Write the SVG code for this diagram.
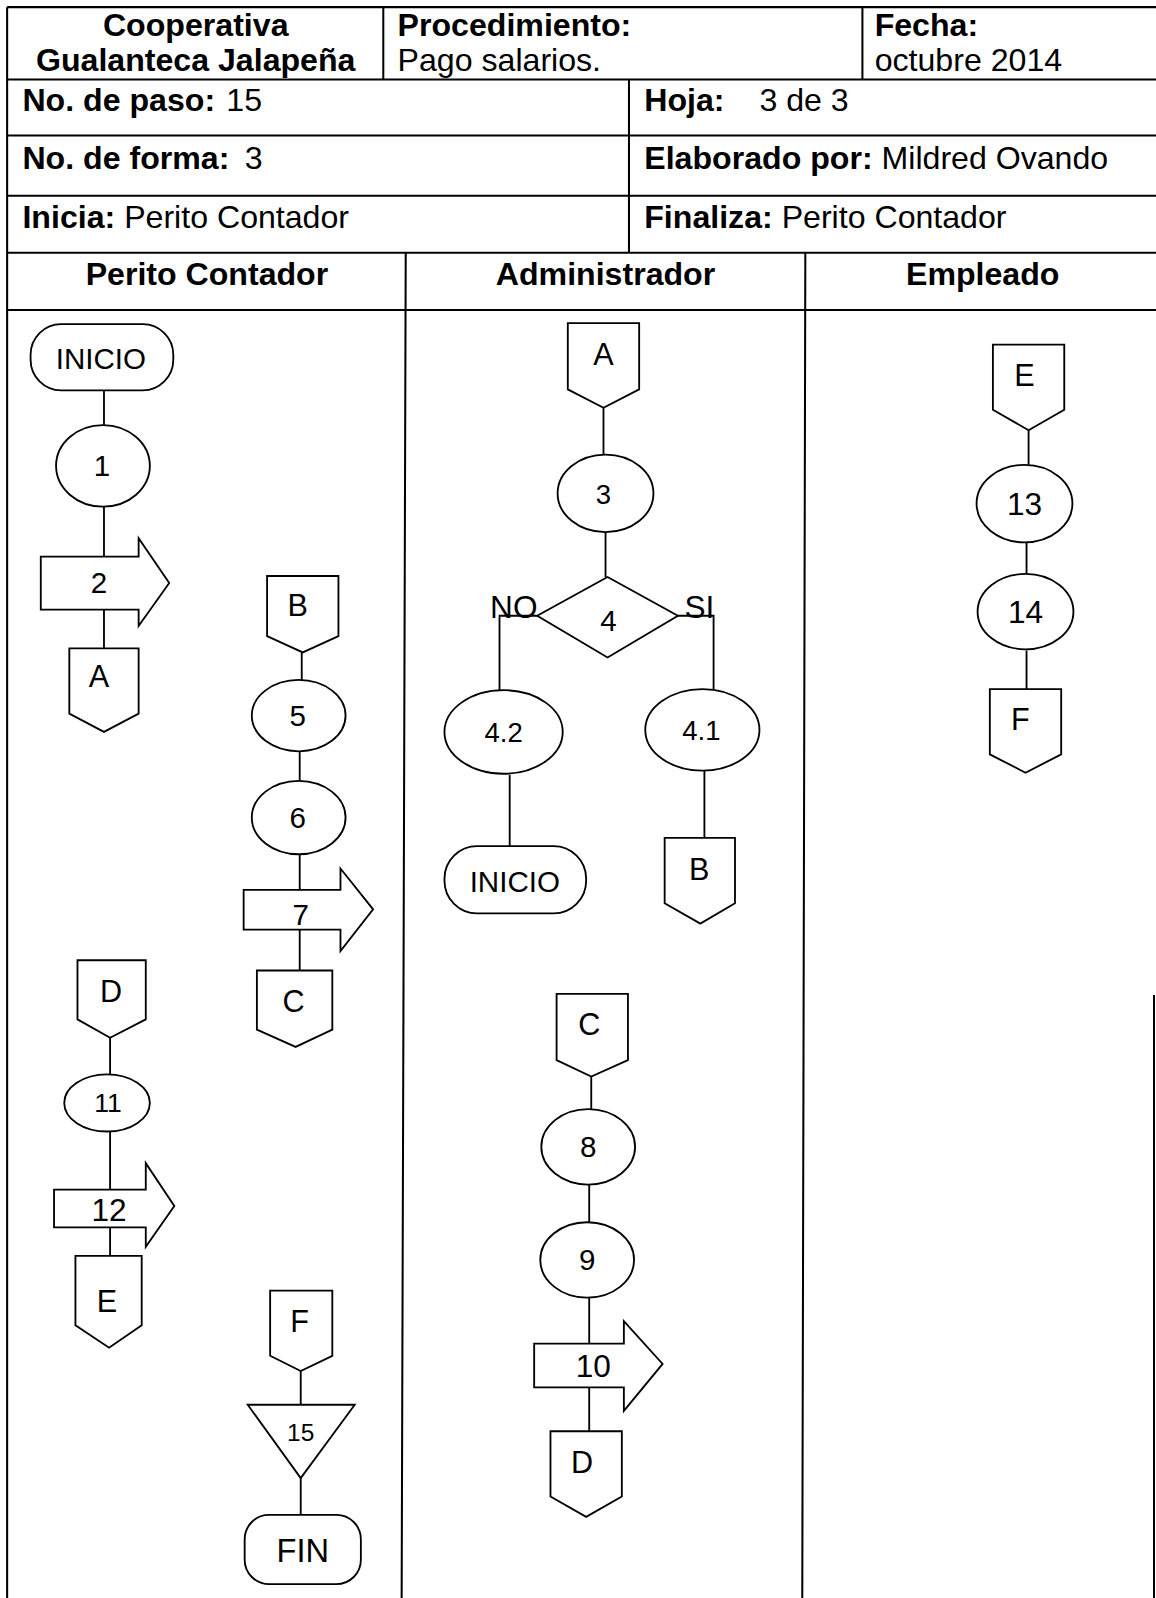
<svg xmlns="http://www.w3.org/2000/svg" width="1156" height="1598" viewBox="0 0 1156 1598">
<style>
.bg{fill:#fff}
.grid{stroke:#000;stroke-width:2;fill:none}
.sh{fill:#fff;stroke:#000;stroke-width:1.8}
.cn{stroke:#000;stroke-width:1.8;fill:none}
.t{font-family:"Liberation Sans",Arial,sans-serif;fill:#000}
.h{font-size:31.5px}
.b{font-weight:bold}
.lb{font-size:29px;text-anchor:middle}
.lt{font-size:30px;text-anchor:middle}
.nn{font-size:31px;text-anchor:middle}
.sm{font-size:27px;text-anchor:middle}
</style>
<rect class="bg" x="0" y="0" width="1156" height="1598"/>
<path class="grid" d="M1154 995V1598"/>
<g transform="scale(1.0194)">
<g id="table">
<path class="grid" d="M7 7H1156M7 78H1156M7 133H1156M7 192H1156M7 248H1156M7 304H1156M7 7V1570M376 7V78M846 7V78M617 78V248M398 248L394 1570M790 248L787 1570"/>
<text class="t h b" x="192" y="35" text-anchor="middle">Cooperativa</text>
<text class="t h b" x="192" y="70" text-anchor="middle">Gualanteca Jalapeña</text>
<text class="t h b" x="390" y="35">Procedimiento:</text>
<text class="t h" x="390" y="70">Pago salarios.</text>
<text class="t h b" x="858" y="35">Fecha:</text>
<text class="t h" x="858" y="70">octubre 2014</text>
<text class="t h b" x="22" y="109">No. de paso:</text>
<text class="t h" x="222" y="109">15</text>
<text class="t h b" x="632" y="109">Hoja:</text>
<text class="t h" x="745" y="109">3 de 3</text>
<text class="t h b" x="22" y="166">No. de forma:</text>
<text class="t h" x="240" y="166">3</text>
<text class="t h" x="632" y="166"><tspan class="b">Elaborado por:</tspan> Mildred Ovando</text>
<text class="t h" x="22" y="224"><tspan class="b">Inicia:</tspan> Perito Contador</text>
<text class="t h" x="632" y="224"><tspan class="b">Finaliza:</tspan> Perito Contador</text>
<text class="t h b" x="203" y="280" text-anchor="middle">Perito Contador</text>
<text class="t h b" x="594" y="280" text-anchor="middle">Administrador</text>
<text class="t h b" x="964" y="280" text-anchor="middle">Empleado</text>
</g>
<g id="connectors">
<path class="cn" d="M102 383V418M102 497V546M102 598V636"/>
<path class="cn" d="M296 640V667M294 737V766M294 838V873M294 912V952"/>
<path class="cn" d="M108 1018V1054M108 1110V1167M108 1204V1232"/>
<path class="cn" d="M295 1345V1378M295 1450V1486"/>
<path class="cn" d="M592 400V446M594 522V566"/>
<path class="cn" d="M527 604H490V678M665 604H700V676"/>
<path class="cn" d="M500 760V830M691 756V822"/>
<path class="cn" d="M580 1056V1088M578 1162V1199M578 1273V1318M578 1361V1404"/>
<path class="cn" d="M1009 422V456M1007 532V563M1007 638V676"/>
</g>
<g id="n-inicio1"><rect class="sh" x="30" y="318" width="140" height="65" rx="30"/><text class="t lb" x="99" y="362">INICIO</text></g>
<g id="n-1"><ellipse class="sh" cx="101" cy="457" rx="46" ry="40"/><text class="t lb" x="100" y="467">1</text></g>
<g id="n-2"><path class="sh" d="M40 546H136V528L166 572L136 614V598H40Z"/><text class="t lb" x="97" y="582">2</text></g>
<g id="n-A1"><path class="sh" d="M68 636H136V700L102 718L68 700Z"/><text class="t lt" x="97" y="674">A</text></g>
<g id="n-B1"><path class="sh" d="M262 565H332V624L297 640L262 624Z"/><text class="t lt" x="292" y="604">B</text></g>
<g id="n-5"><ellipse class="sh" cx="293" cy="702" rx="46" ry="35"/><text class="t lb" x="292" y="712">5</text></g>
<g id="n-6"><ellipse class="sh" cx="293" cy="802" rx="46" ry="36"/><text class="t lb" x="292" y="812">6</text></g>
<g id="n-7"><path class="sh" d="M239 873H334V852L366 892L334 933V912H239Z"/><text class="t lb" x="295" y="907">7</text></g>
<g id="n-C1"><path class="sh" d="M252 952H326V1010L290 1027L252 1010Z"/><text class="t lt" x="288" y="993">C</text></g>
<g id="n-D1"><path class="sh" d="M76 942H143V1000L108 1018L76 1000Z"/><text class="t lt" x="109" y="983">D</text></g>
<g id="n-11"><ellipse class="sh" cx="105" cy="1082" rx="42" ry="28"/><text class="t sm" style="font-size:26px" x="106" y="1091">11</text></g>
<g id="n-12"><path class="sh" d="M53 1167H143V1141L171 1183L143 1223V1204H53Z"/><text class="t nn" x="107" y="1198">12</text></g>
<g id="n-E1"><path class="sh" d="M74 1232H139V1300L107 1322L74 1300Z"/><text class="t lt" x="105" y="1287">E</text></g>
<g id="n-F1"><path class="sh" d="M265 1266H326V1330L295 1345L265 1330Z"/><text class="t lt" x="294" y="1307">F</text></g>
<g id="n-15"><path class="sh" d="M243 1378H348L295 1450Z"/><text class="t sm" style="font-size:24px" x="295" y="1414">15</text></g>
<g id="n-fin"><rect class="sh" x="240" y="1486" width="114" height="68" rx="24"/><text class="t lb" style="font-size:32px" x="297" y="1532">FIN</text></g>
<g id="n-A2"><path class="sh" d="M557 317H627V382L592 400L557 382Z"/><text class="t lt" x="592" y="358">A</text></g>
<g id="n-3"><ellipse class="sh" cx="594" cy="484" rx="47" ry="38"/><text class="t sm" x="592" y="494">3</text></g>
<g id="n-4"><path class="sh" d="M596 566L665 604L596 645L527 604Z"/><text class="t lb" x="597" y="619">4</text>
<text class="t nn" x="504" y="606">NO</text><text class="t nn" x="686" y="606">SI</text></g>
<g id="n-4.2"><ellipse class="sh" cx="494" cy="718" rx="58" ry="41"/><text class="t sm" x="494" y="728">4.2</text></g>
<g id="n-4.1"><ellipse class="sh" cx="689" cy="716" rx="56" ry="40"/><text class="t sm" x="688" y="726">4.1</text></g>
<g id="n-inicio2"><rect class="sh" x="436" y="830" width="139" height="66" rx="32"/><text class="t lb" x="505" y="875">INICIO</text></g>
<g id="n-B2"><path class="sh" d="M652 822H721V886L687 906L652 886Z"/><text class="t lt" x="686" y="863">B</text></g>
<g id="n-C2"><path class="sh" d="M546 975H616V1040L580 1056L546 1040Z"/><text class="t lt" x="578" y="1015">C</text></g>
<g id="n-8"><ellipse class="sh" cx="577" cy="1125" rx="46" ry="37"/><text class="t lb" x="577" y="1135">8</text></g>
<g id="n-9"><ellipse class="sh" cx="576" cy="1236" rx="46" ry="37"/><text class="t lb" x="576" y="1246">9</text></g>
<g id="n-10"><path class="sh" d="M524 1318H612V1296L650 1338L612 1384V1361H524Z"/><text class="t nn" x="582" y="1351">10</text></g>
<g id="n-D2"><path class="sh" d="M540 1404H610V1468L575 1488L540 1468Z"/><text class="t lt" x="571" y="1445">D</text></g>
<g id="n-E2"><path class="sh" d="M974 338H1044V402L1009 422L974 402Z"/><text class="t lt" x="1005" y="379">E</text></g>
<g id="n-13"><ellipse class="sh" cx="1005" cy="494" rx="47" ry="38"/><text class="t nn" x="1005" y="505">13</text></g>
<g id="n-14"><ellipse class="sh" cx="1006" cy="600" rx="47" ry="37"/><text class="t nn" x="1006" y="611">14</text></g>
<g id="n-F2"><path class="sh" d="M971 676H1041V740L1006 758L971 740Z"/><text class="t lt" x="1001" y="716">F</text></g>
</g>
</svg>
